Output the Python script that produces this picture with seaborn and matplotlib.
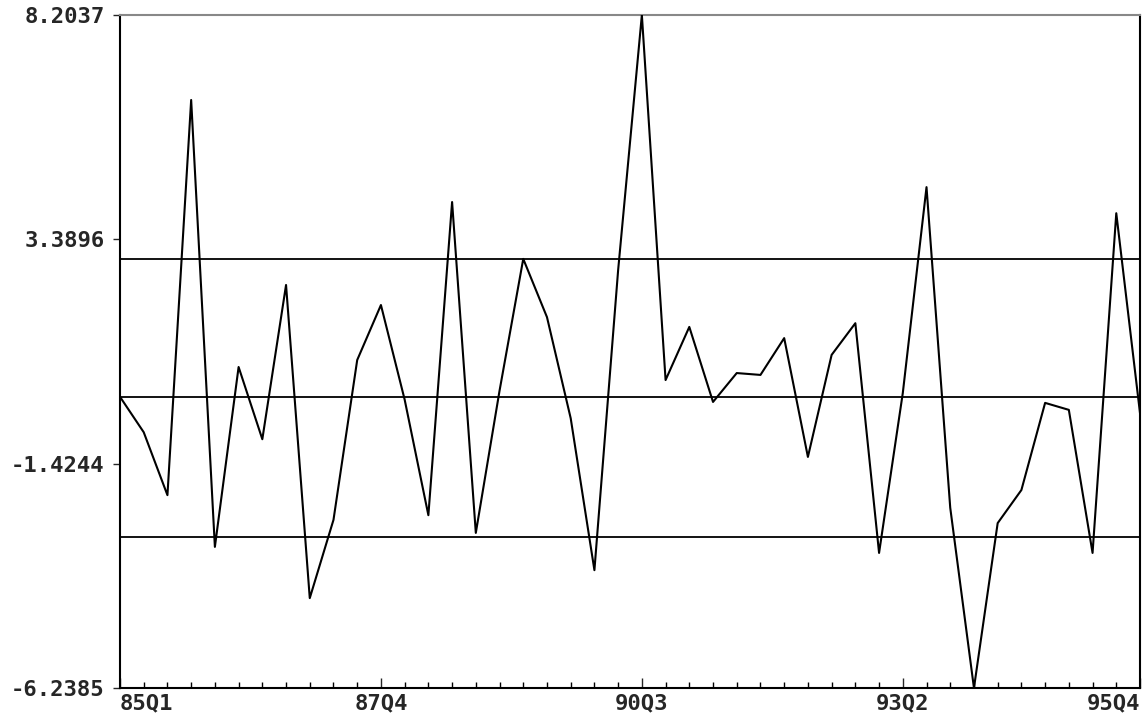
import numpy as np
import pandas as pd
import matplotlib
matplotlib.use("Agg")
import matplotlib.pyplot as plt
import seaborn as sns

# ---- data (quarterly, 85Q1 .. 95Q4) ----
years = list(range(1985, 1996))
quarters = [f"{y % 100:02d}Q{q}" for y in years for q in range(1, 5)]
values = [0.01, -0.75, -2.10, 6.38, -3.21, 0.65, -0.90, 2.41, -4.31, -2.63,
          0.80, 1.98, -0.05, -2.53, 4.19, -2.91, 0.14, 2.97, 1.72, -0.45,
          -3.71, 2.73, 8.2037, 0.37, 1.51, -0.10, 0.52, 0.48, 1.27, -1.28,
          0.91, 1.59, -3.34, 0.09, 4.51, -2.37, -6.2385, -2.70, -1.99, -0.12,
          -0.27, -3.34, 3.95, -0.34]
ref_lines = [2.97, 0.0, -3.0]
x_labels = ["85Q1", "87Q4", "90Q3", "93Q2", "95Q4"]
y_ticks = [8.2037, 3.3896, -1.4244, -6.2385]

df = pd.DataFrame({"quarter": quarters, "value": values})
df["idx"] = np.arange(len(df))

sns.set_theme(style="white")
plt.rcParams["font.family"] = ["DejaVu Sans Mono", "DejaVu Sans"]

fig = plt.figure(figsize=(11.44, 7.17), dpi=100)
ax = fig.add_axes([120 / 1144, 1 - 688 / 717, 1020 / 1144, 673 / 717])

for v in ref_lines:
    ax.axhline(v, color="black", lw=1.3, zorder=1)

sns.lineplot(data=df, x="idx", y="value", color="black", lw=1.5, ax=ax, zorder=3)

ax.set_xlim(0, len(df) - 1)
ax.set_ylim(min(y_ticks), max(y_ticks))
ax.set_xlabel("")
ax.set_ylabel("")

# x ticks: every quarter minor, labels at selected quarters
ax.set_xticks(df["idx"], minor=True)
major_pos = [quarters.index(l) for l in x_labels]
ax.set_xticks(major_pos)
ax.set_xticklabels(x_labels, fontsize=16, fontweight="bold")
labs = ax.get_xticklabels()
labs[0].set_ha("left")
labs[-1].set_ha("right")
ax.tick_params(axis="x", which="minor", direction="in", length=4, width=1, colors="black", bottom=True)
ax.tick_params(axis="x", which="major", direction="in", length=7, width=1, pad=4, bottom=True)

ax.set_yticks(y_ticks)
ax.set_yticklabels([f"{t:.4f}" for t in y_ticks], fontsize=16, fontweight="bold")
ax.tick_params(axis="y", direction="out", length=5, width=1, pad=6, left=True)

for s in ax.spines.values():
    s.set_color("black")
    s.set_linewidth(1.5)
ax.spines["top"].set_color("#888888")
ax.spines["top"].set_linestyle((0, (2, 1)))

fig.savefig("out.png", dpi=100)
